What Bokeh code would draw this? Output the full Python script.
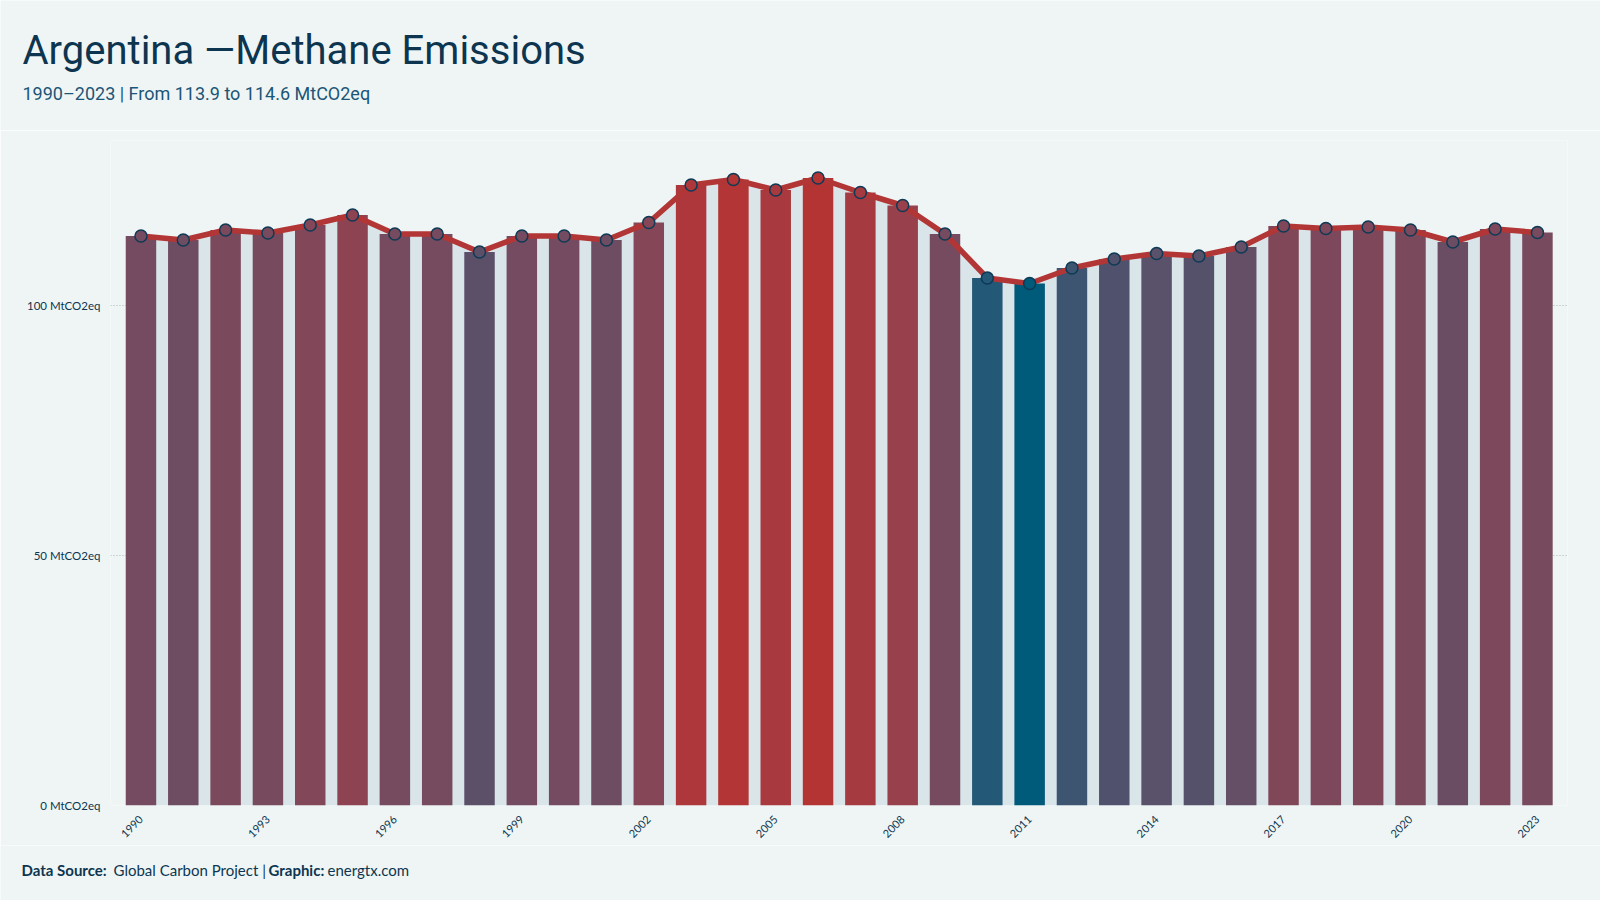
import math
from bokeh.plotting import figure
from bokeh.layouts import column
from bokeh.models import Range1d, FixedTicker, Label, ColumnDataSource, CustomJSTickFormatter
from bokeh.embed import file_html
from bokeh.resources import INLINE

# ---- data ----
years = list(range(1990, 2024))
emissions = [113.9, 113.1, 115.1, 114.5, 116.1, 118.1, 114.3, 114.3, 110.7, 113.9,
             113.9, 113.1, 116.6, 124.1, 125.2, 123.1, 125.5, 122.6, 120.0, 114.3,
             105.5, 104.4, 107.5, 109.3, 110.4, 109.9, 111.7, 115.9, 115.4, 115.7,
             115.1, 112.7, 115.3, 114.6]
x_ticks = list(range(1990, 2024, 3))
y_ticks = [0, 50, 100]
unit = "MtCO2eq"

title_text = "Argentina \u2014Methane Emissions"
subtitle_text = "1990\u20132023 | From 113.9 to 114.6 MtCO2eq"

# ---- colours (value -> blue..red, gamma mixing) ----
LOW = (0, 90, 122)
HIGH = (180, 52, 52)
G = 1.8
vmin, vmax = min(emissions), max(emissions)


def mix(v):
    t = (v - vmin) / (vmax - vmin)
    out = []
    for a, b in zip(LOW, HIGH):
        la = (a / 255) ** G
        lb = (b / 255) ** G
        m = ((1 - t) * la + t * lb) ** (1 / G)
        out.append(int(round(m * 255)))
    return "#%02x%02x%02x" % tuple(out)


colors = [mix(v) for v in emissions]

BG = "#eff5f5"
NAVY = "#0d3550"
W = 1600
HEAD_H, MAIN_H, FOOT_H = 130, 715, 55


def text_fig(h):
    f = figure(width=W, height=h, output_backend="svg", toolbar_location=None,
               x_range=Range1d(0, W), y_range=Range1d(0, h),
               x_axis_type=None, y_axis_type=None, frame_align=False,
               min_border_left=0, min_border_right=0, min_border_top=0,
               min_border_bottom=0)
    f.background_fill_color = BG
    f.border_fill_color = BG
    f.outline_line_color = None
    return f


def lab(f, h, text, cx, cy, size, color, font, style="normal"):
    f.add_layout(Label(x=cx, y=h - cy, x_units="screen", y_units="screen",
                       text=text, text_font_size=size, text_color=color,
                       text_font=font, text_font_style=style,
                       text_baseline="alphabetic", text_align="left"))


# ---- header ----
head = text_fig(HEAD_H)
lab(head, HEAD_H, title_text, 22, 49.5, "40px", NAVY, "Roboto")
lab(head, HEAD_H, subtitle_text, 22, 93, "18px", "#1b5577", "Roboto")

# ---- main chart ----
src = ColumnDataSource(dict(x=years, y=emissions, c=colors))

p = figure(width=W, height=MAIN_H, output_backend="svg", toolbar_location=None,
           x_range=Range1d(1989.28, 2023.71), y_range=Range1d(0, 133),
           frame_align=False,
           min_border_left=110, min_border_right=33, min_border_top=10,
           min_border_bottom=40)
p.background_fill_color = BG
p.border_fill_color = BG
p.outline_line_color = None

p.varea(x="x", y1=0, y2="y", source=src, fill_color="#d9e5e9")
p.vbar(x="x", top="y", width=0.72, bottom=0, source=src, fill_color="c", line_color=None)
p.line(x="x", y="y", source=src, line_color="#b33636", line_width=5.5)
p.scatter(x="x", y="y", source=src, size=12, fill_color="c", line_color="#0d3a55",
          line_width=1.5)

p.xaxis.ticker = FixedTicker(ticks=x_ticks)
p.xaxis.major_label_orientation = math.pi / 4
p.xaxis.axis_line_color = None
p.xaxis.major_tick_line_color = None
p.xaxis.minor_tick_line_color = None
p.xaxis.major_label_text_font = "Lato"
p.xaxis.major_label_text_font_size = "11px"
p.xaxis.major_label_text_color = NAVY
p.xaxis.major_label_standoff = 6

p.yaxis.ticker = FixedTicker(ticks=y_ticks)
p.yaxis.formatter = CustomJSTickFormatter(code="return tick + ' %s';" % unit)
p.yaxis.axis_line_color = None
p.yaxis.major_tick_line_color = None
p.yaxis.minor_tick_line_color = None
p.yaxis.major_label_text_font = "Lato"
p.yaxis.major_label_text_font_size = "11.5px"
p.yaxis.major_label_text_color = NAVY
p.yaxis.major_label_standoff = 4

p.xgrid.grid_line_color = None
p.ygrid.grid_line_color = "#a9b5ba"
p.ygrid.grid_line_dash = "1 2"
p.ygrid.grid_line_width = 1

# ---- footer ----
foot = text_fig(FOOT_H)
fy = 24.2  # page baseline ~875 (footer starts at page y 845)
lab(foot, FOOT_H, "Data Source:", 21, fy, "15px", NAVY, "Lato", "bold")
lab(foot, FOOT_H, "Global Carbon Project |", 113, fy, "15px", NAVY, "Lato")
lab(foot, FOOT_H, "Graphic:", 268, fy, "15px", NAVY, "Lato", "bold")
lab(foot, FOOT_H, "energtx.com", 327, fy, "15px", NAVY, "Lato")

layout = column(head, p, foot, spacing=0)
open("out.html", "w").write(file_html(layout, INLINE))
